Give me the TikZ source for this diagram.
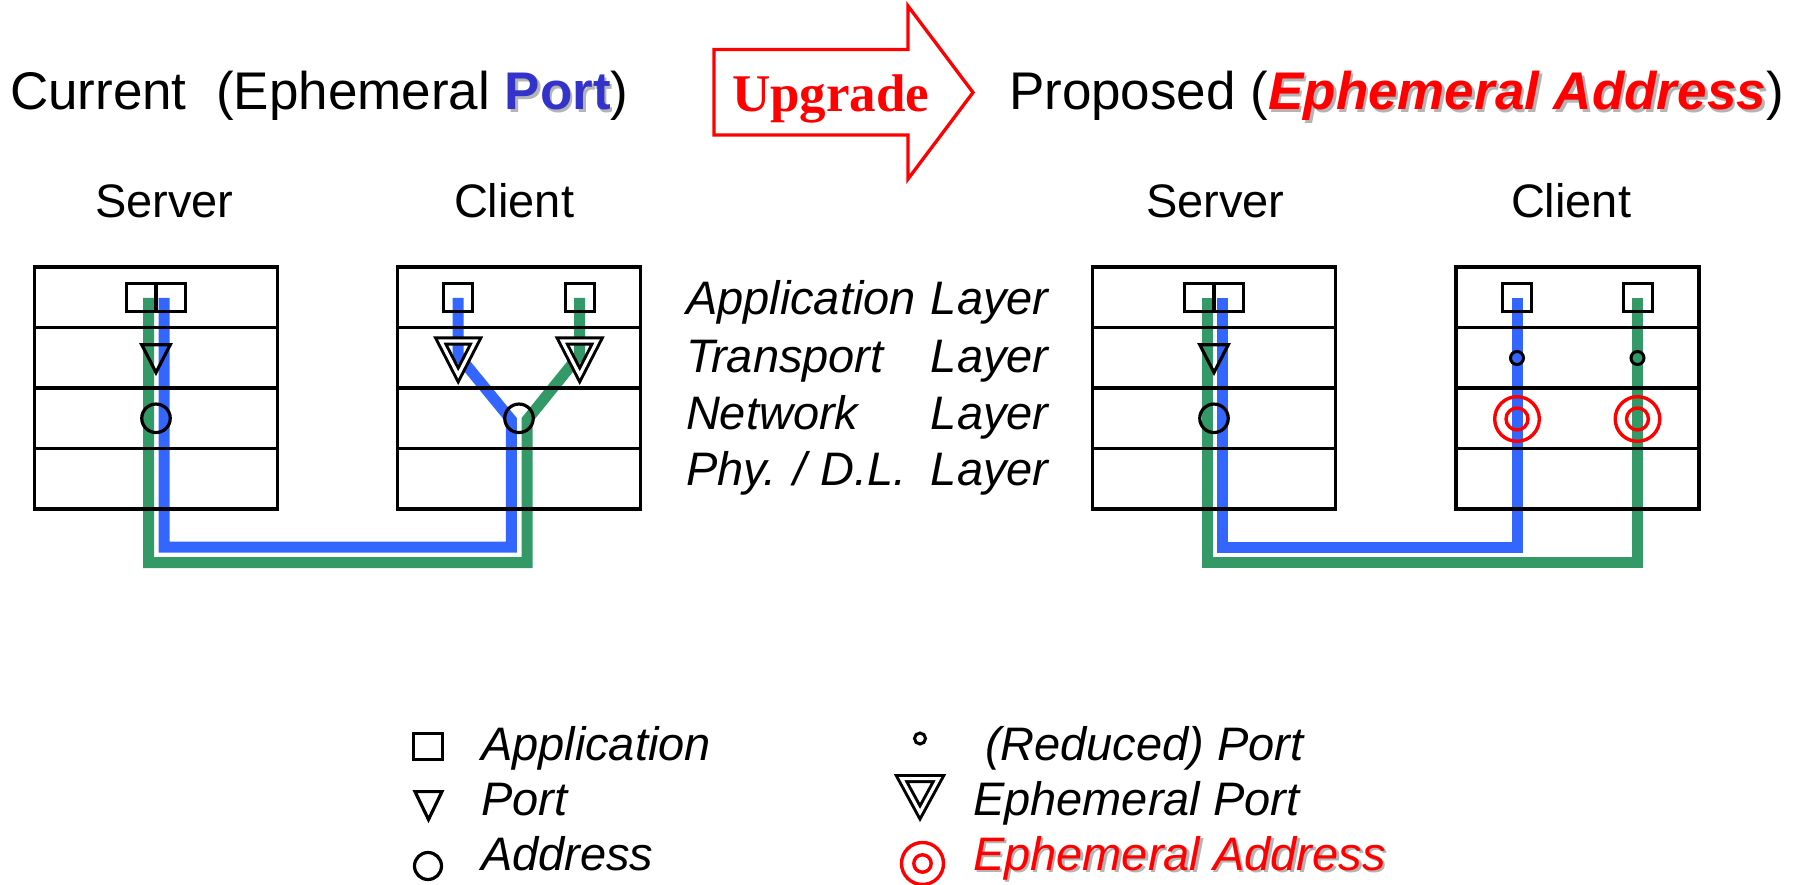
\documentclass[tikz,border=0pt]{standalone}
\usepackage{fontspec}
\setmainfont{Liberation Sans}
\newfontfamily\upgradefont{Liberation Serif}
\usetikzlibrary{calc}
\definecolor{linkblue}{RGB}{51,102,255}
\definecolor{linkgreen}{RGB}{51,153,102}
\definecolor{titleblue}{RGB}{51,51,204}
\definecolor{shade}{RGB}{180,180,180}
% text with a soft grey drop shadow behind it
\newcommand{\shadowed}[2]{\rlap{\hspace{2.5pt}\raisebox{-2.5pt}{\color{shade}#2}}{\color{#1}#2}}
% a four-row protocol stack, row lines below the named frame's top edge
\newcommand{\layerrows}[1]{%
  \foreach \yy in {60.5,121,181.5}
    \draw[stackbox] ($(#1.north west)+(0,\yy)$) -- ($(#1.north east)+(0,\yy)$);}
\begin{document}
\begin{tikzpicture}[x=1pt,y=-1pt,
  every node/.style={inner sep=0pt, outer sep=0pt},
  headline/.style={anchor=base west, font=\fontsize{53}{60}\selectfont},
  hostname/.style={anchor=base west, font=\fontsize{47}{54}\selectfont},
  layertext/.style={anchor=base west, font=\fontsize{47}{54}\selectfont\itshape},
  stackbox/.style={draw=black, line width=3.3pt},
  stackframe/.style={stackbox, minimum width=243pt, minimum height=242pt, anchor=north west},
  sym/.style={draw=black, line width=3.2pt},
  appsq/.style={sym, minimum width=29pt, minimum height=27.6pt},
  addr/.style={sym, circle, minimum size=28.5pt},
  rport/.style={draw=black, line width=3pt, circle, minimum size=13pt},
  ephport/.style={draw=black, line width=3pt, double=white, double distance=3.2pt, line join=miter},
  ephaddr/.style={draw=red, line width=3.4pt},
  wire/.style={line width=11pt, line join=miter},
  ]
\useasboundingbox (0,0) rectangle (1799,885);

% ---------- headings ----------
\node[headline] (curT) at (10,110) {Current\ \ (Ephemeral \shadowed{titleblue}{\bfseries Port})};
\node[headline] (propT) at (1009,110) {Proposed (\shadowed{red}{\bfseries\itshape Ephemeral Address})};

% upgrade arrow
\draw[draw=red, line width=3.3pt, line join=miter]
  (714,49.5) -- (908,49.5) -- (908,6) -- (973,92.5) -- (908,179) -- (908,135) -- (714,135) -- cycle;
\node[anchor=base west, font=\upgradefont\bfseries\fontsize{53}{60}\selectfont, text=red]
  (upg) at (732,111.5) {Upgrade};

% ---------- host names ----------
\node[hostname] (srvLt) at (95,218) {Server};
\node[hostname] (cliLt) at (454,218) {Client};
\node[hostname] (srvRt) at (1146,218) {Server};
\node[hostname] (cliRt) at (1511,218) {Client};

% ---------- wire waypoints ----------
\coordinate (sLb0) at (164,298);    \coordinate (sLb1) at (164,547);
\coordinate (cLb1) at (511.3,547);  \coordinate (cLb2) at (511.3,420);
\coordinate (cLb3) at (458,355);    \coordinate (cLb0) at (458,298);
\coordinate (sLg0) at (148.5,298);  \coordinate (sLg1) at (148.5,562.5);
\coordinate (cLg1) at (527,562.5);  \coordinate (cLg2) at (527,420);
\coordinate (cLg3) at (579.5,355);  \coordinate (cLg0) at (579.5,298);

\coordinate (sRb0) at (1222.6,298); \coordinate (sRb1) at (1222.6,547);
\coordinate (cRb1) at (1517,547);   \coordinate (cRb0) at (1517,298);
\coordinate (sRg0) at (1207,298);   \coordinate (sRg1) at (1207,562.5);
\coordinate (cRg1) at (1637.5,562.5); \coordinate (cRg0) at (1637.5,298);

% ---------- connections ----------
\draw[wire, linkblue]  (sLb0) -- (sLb1) -- (cLb1) -- (cLb2) -- (cLb3) -- (cLb0);
\draw[wire, linkgreen] (sLg0) -- (sLg1) -- (cLg1) -- (cLg2) -- (cLg3) -- (cLg0);
\draw[wire, linkblue]  (sRb0) -- (sRb1) -- (cRb1) -- (cRb0);
\draw[wire, linkgreen] (sRg0) -- (sRg1) -- (cRg1) -- (cRg0);

% ---------- stacks ----------
\node[stackframe] (srvL) at (34.5,267) {};  \layerrows{srvL}
\node[stackframe] (cliL) at (397.5,267) {}; \layerrows{cliL}
\node[stackframe] (srvR) at (1092.5,267) {}; \layerrows{srvR}
\node[stackframe] (cliR) at (1456,267) {};  \layerrows{cliR}

% ---------- left server (current) ----------
\node[sym, minimum width=58.6pt, minimum height=27.6pt] (sLapp) at (156,297.5) {};
\draw[sym] (sLapp.north) -- (sLapp.south);
\draw[sym, line join=miter] (141.8,344.8) -- (170.2,344.8) -- (156,372.5) -- cycle;
\node[addr] (sLaddr) at (156,418.3) {};

% ---------- left client (current) ----------
\node[appsq] (cLappA) at (458.2,297.5) {};
\node[appsq] (cLappB) at (580,297.5) {};
\draw[ephport] (440.7,341) -- (475.7,341) -- (458.2,375) -- cycle;
\draw[ephport] (562.2,341) -- (597.2,341) -- (579.7,375) -- cycle;
\node[addr] (cLaddr) at (519,418.3) {};

% ---------- right server (proposed) ----------
\node[sym, minimum width=58.6pt, minimum height=27.6pt] (sRapp) at (1214,297.5) {};
\draw[sym] (sRapp.north) -- (sRapp.south);
\draw[sym, line join=miter] (1199.8,344.8) -- (1228.2,344.8) -- (1214,372.5) -- cycle;
\node[addr] (sRaddr) at (1214,418.3) {};

% ---------- right client (proposed) ----------
\node[appsq] (cRappA) at (1517,297.5) {};
\node[appsq] (cRappB) at (1638,297.5) {};
\node[rport] (cRportA) at (1517,358) {};
\node[rport] (cRportB) at (1637.5,358) {};
\draw[ephaddr] (1517,419) circle[radius=22.3] (1517,419) circle[radius=11];
\draw[ephaddr] (1637.5,419) circle[radius=22.3] (1637.5,419) circle[radius=11];

% ---------- layer names ----------
\node[layertext] (lApp) at (686,315)   {\makebox[245pt][l]{Application}Layer};
\node[layertext] (lTr)  at (686,372)   {\makebox[245pt][l]{Transport}Layer};
\node[layertext] (lNet) at (686,429)   {\makebox[245pt][l]{Network}Layer};
\node[layertext] (lPhy) at (686,485)   {\makebox[245pt][l]{Phy. / D.L.}Layer};

% ---------- legend ----------
\node[sym, minimum width=28.5pt, minimum height=26pt] (kApp) at (428,746.5) {};
\draw[sym, line join=miter] (415,791.6) -- (442,791.6) -- (428.5,819.5) -- cycle;
\node[addr, minimum size=27pt] (kAddr) at (428,866) {};
\node[rport, minimum size=11pt] (kRport) at (920,738.5) {};
\draw[ephport] (901.5,778.6) -- (938.5,778.6) -- (920,812.5) -- cycle;
\draw[ephaddr] (922.5,863.5) circle[radius=21] (922.5,863.5) circle[radius=8.7];

\node[layertext] (kAppT)  at (481,760) {Application};
\node[layertext] (kPortT) at (481,815) {Port};
\node[layertext] (kAddrT) at (481,870) {Address};
\node[layertext] (kRportT) at (985,760) {(Reduced) Port};
\node[layertext] (kEportT) at (973,815) {Ephemeral Port};
\node[layertext] (kEaddrT) at (973,870) {\shadowed{red}{Ephemeral Address}};
\end{tikzpicture}
\end{document}
